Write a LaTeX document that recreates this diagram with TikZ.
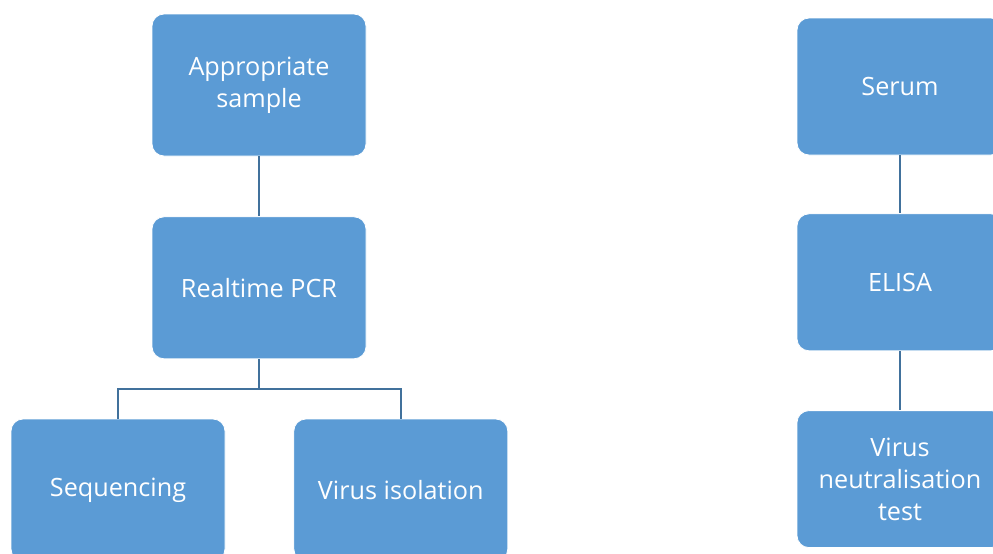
\documentclass[tikz,border=0pt]{standalone}
\usepackage{fontspec}
\setmainfont{Open Sans}
\usetikzlibrary{positioning}
\definecolor{boxblue}{HTML}{5B9BD5}
\definecolor{linkblue}{HTML}{41719C}

\begin{document}
\begin{tikzpicture}[x=0.5pt, y=-0.5pt, >=latex,
    stage/.style={draw=white, line width=0.4pt, fill=boxblue, rounded corners=6pt, text=white,
      align=center, inner sep=0pt, minimum width=107pt, minimum height=71pt,
      font=\fontsize{12.6}{16}\selectfont},
    narrow/.style={stage, minimum width=103pt, minimum height=68.5pt},
    link/.style={draw=linkblue, line width=1.2pt}]
    \useasboundingbox (0,0) rectangle (993,553);
    \clip (0,0) rectangle (993,553);
    % molecular branch
    \node[stage] (sample) at (259,85) {Appropriate\\sample};
    \node[stage, below=30pt of sample] (pcr) {Realtime PCR};
    \node[stage] (seq) at (118,490) {Sequencing};
    \node[stage, right=34pt of seq] (iso) {Virus isolation};
    \draw[link] (sample) -- (pcr);
    \coordinate[below=15pt of pcr.south] (fork);
    \draw[link] (pcr.south) -- (fork) -| (seq.north);
    \draw[link] (fork) -| (iso.north);
    % serology branch
    \node[narrow] (serum) at (900,86.5) {Serum};
    \node[narrow, below=29pt of serum] (elisa) {ELISA};
    \node[narrow, below=29.5pt of elisa] (vnt) {Virus\\neutralisation\\test};
    \draw[link] (serum) -- (elisa);
    \draw[link] (elisa) -- (vnt);
  \end{tikzpicture}
\end{document}
